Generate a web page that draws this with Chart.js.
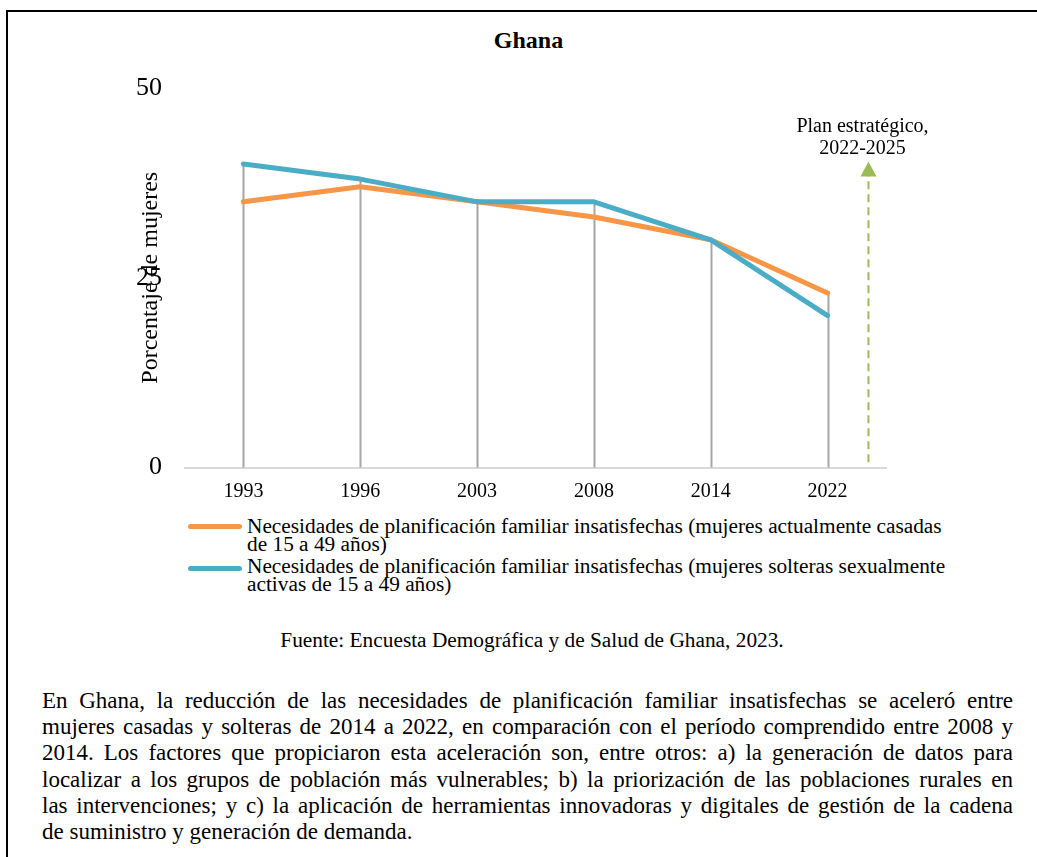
<!DOCTYPE html>
<html lang="es">
<head>
<meta charset="utf-8">
<title>Ghana</title>
<script src="https://cdn.jsdelivr.net/npm/chart.js@4.4.1/dist/chart.umd.min.js"></script>
<style>
  html, body { margin: 0; padding: 0; background: #fff; }
  body {
    width: 1037px; height: 857px; overflow: hidden; position: relative;
    font-family: "Liberation Serif", "Times New Roman", serif; color: #000;
  }
  #frame {
    position: absolute; left: 6px; top: 10px; width: 1100px; height: 900px;
    border-left: 2px solid #000; border-top: 2px solid #000;
  }
  #title {
    position: absolute; left: 0; width: 1057px; top: 26px;
    text-align: center; font-weight: bold; font-size: 24px; line-height: 28px;
  }
  #chart-wrap { position: absolute; left: 0; top: 0; width: 1037px; height: 510px; }
  .lg-item {
    position: absolute; left: 247px; width: 712px;
    font-size: 21.33px; line-height: 18px;
  }
  .lg-swatch {
    position: absolute; left: -59px; width: 54px; height: 5px; border-radius: 3px;
  }
  #source {
    position: absolute; left: 0; width: 1064px; top: 629px;
    text-align: center; font-size: 21.33px; line-height: 22px;
  }
  #note {
    position: absolute; left: 42px; width: 971px; top: 688px;
    font-size: 23px; line-height: 26.2px;
  }
  #note span {
    display: block; white-space: nowrap;
    text-align: justify; text-align-last: justify;
  }
  #note span.last { text-align-last: left; }
</style>
</head>
<body>
<div id="frame"></div>
<div id="title">Ghana</div>
<div id="chart-wrap"><canvas id="c" width="1037" height="510"></canvas></div>
<div id="legend"></div>
<div id="source">Fuente: Encuesta Demográfica y de Salud de Ghana, 2023.</div>
<div id="note">
  <span>En Ghana, la reducción de las necesidades de planificación familiar insatisfechas se aceleró entre</span>
  <span>mujeres casadas y solteras de 2014 a 2022, en comparación con el período comprendido entre 2008 y</span>
  <span>2014. Los factores que propiciaron esta aceleración son, entre otros: a) la generación de datos para</span>
  <span>localizar a los grupos de población más vulnerables; b) la priorización de las poblaciones rurales en</span>
  <span>las intervenciones; y c) la aplicación de herramientas innovadoras y digitales de gestión de la cadena</span>
  <span class="last">de suministro y generación de demanda.</span>
</div>

<script>
// ── Data ──────────────────────────────────────────────────────────────
const YEARS    = ['1993', '1996', '2003', '2008', '2014', '2022'];
const CASADAS  = [35, 37, 35, 33, 30, 23];   // mujeres actualmente casadas
const SOLTERAS = [40, 38, 35, 35, 30, 20];   // mujeres solteras sexualmente activas
const Y_TICKS  = [0, 25, 50];

const LABEL_CASADAS  = 'Necesidades de planificación familiar insatisfechas (mujeres actualmente casadas de 15 a 49 años)';
const LABEL_SOLTERAS = 'Necesidades de planificación familiar insatisfechas (mujeres solteras sexualmente activas de 15 a 49 años)';
const PLAN_LABEL     = ['Plan estratégico,', '2022-2025'];

const ORANGE = '#f79646';
const BLUE   = '#4bacc6';
const GREEN  = '#9bbb59';
const FONT   = '"Liberation Serif", "Times New Roman", serif';

// ── Drop lines from the highest point of each year to the axis ───────
const dropLines = {
  id: 'dropLines',
  beforeDatasetsDraw(chart) {
    const { ctx, chartArea, scales: { x, y } } = chart;
    ctx.save();
    ctx.strokeStyle = '#a6a6a6';
    ctx.lineWidth = 2;
    YEARS.forEach((_, i) => {
      const top = Math.max(...chart.data.datasets.map(d => d.data[i]));
      const px = Math.round(x.getPixelForValue(i)) + 0.5;
      ctx.beginPath();
      ctx.moveTo(px, y.getPixelForValue(top));
      ctx.lineTo(px, chartArea.bottom);
      ctx.stroke();
    });
    ctx.restore();
  }
};

// ── "Plan estratégico" dashed arrow after the last survey ────────────
const planArrow = {
  id: 'planArrow',
  afterDatasetsDraw(chart) {
    const { ctx, scales: { x, y } } = chart;
    const last = YEARS.length - 1;
    const band = x.getPixelForValue(last) - x.getPixelForValue(last - 1);
    const px = x.getPixelForValue(last) + band * 0.35;
    const yBottom = y.getPixelForValue(0.7);
    const yTip = y.getPixelForValue(40.3);
    ctx.save();
    ctx.strokeStyle = GREEN;
    ctx.fillStyle = GREEN;
    ctx.lineWidth = 2;
    ctx.setLineDash([8, 5]);
    ctx.beginPath();
    ctx.moveTo(px, yBottom);
    ctx.lineTo(px, yTip + 14);
    ctx.stroke();
    ctx.setLineDash([]);
    ctx.beginPath();
    ctx.moveTo(px, yTip);
    ctx.lineTo(px - 8, yTip + 15);
    ctx.lineTo(px + 8, yTip + 15);
    ctx.closePath();
    ctx.fill();

    ctx.fillStyle = '#000';
    ctx.font = '20px ' + FONT;
    ctx.textAlign = 'center';
    ctx.textBaseline = 'middle';
    ctx.fillText(PLAN_LABEL[0], px - 6, yTip - 35);
    ctx.fillText(PLAN_LABEL[1], px - 6, yTip - 13);
    ctx.restore();
  }
};

new Chart(document.getElementById('c'), {
  type: 'line',
  data: {
    labels: YEARS,
    datasets: [
      {
        label: LABEL_CASADAS, data: CASADAS, borderColor: ORANGE, backgroundColor: ORANGE,
        borderWidth: 5, pointRadius: 0, tension: 0, fill: false,
        borderCapStyle: 'round', borderJoinStyle: 'round', order: 1,
      },
      {
        label: LABEL_SOLTERAS, data: SOLTERAS, borderColor: BLUE, backgroundColor: BLUE,
        borderWidth: 5, pointRadius: 0, tension: 0, fill: false,
        borderCapStyle: 'round', borderJoinStyle: 'round', order: 0,
      },
    ],
  },
  options: {
    responsive: false,
    animation: false,
    devicePixelRatio: 1,
    layout: { padding: { top: 88, right: 151, bottom: 0, left: 0 } },
    plugins: {
      legend: { display: false },
      tooltip: { enabled: false },
      title: { display: false },
    },
    scales: {
      x: {
        offset: true,
        grid: { display: false, drawTicks: false },
        border: { display: true, color: '#d9d9d9', width: 2 },
        ticks: { color: '#000', font: { family: FONT, size: 20 }, padding: 12.5, maxRotation: 0 },
        afterFit: s => { s.height = 42.5; },
      },
      y: {
        min: 0, max: 50,
        afterBuildTicks: s => { s.ticks = Y_TICKS.map(v => ({ value: v })); },
        grid: { display: false, drawTicks: false },
        border: { display: false },
        ticks: { color: '#000', font: { family: FONT, size: 26 }, padding: 23 },
        title: {
          display: true, text: 'Porcentaje de mujeres', color: '#000',
          font: { family: FONT, size: 24 }, padding: { top: 136, bottom: 0 },
        },
        afterFit: s => { s.width = 185; },
      },
    },
  },
  plugins: [dropLines, planArrow],
});

// ── HTML legend (wrapped text, as in the source) ─────────────────────
const legendItems = [
  { text: LABEL_CASADAS,  color: ORANGE, top: 517, swatchTop: 7 },
  { text: LABEL_SOLTERAS, color: BLUE,   top: 557, swatchTop: 9 },
];
const legend = document.getElementById('legend');
legendItems.forEach(it => {
  const div = document.createElement('div');
  div.className = 'lg-item';
  div.style.top = it.top + 'px';
  const sw = document.createElement('span');
  sw.className = 'lg-swatch';
  sw.style.background = it.color;
  sw.style.top = it.swatchTop + 'px';
  div.appendChild(sw);
  div.appendChild(document.createTextNode(it.text));
  legend.appendChild(div);
});
</script>
</body>
</html>
